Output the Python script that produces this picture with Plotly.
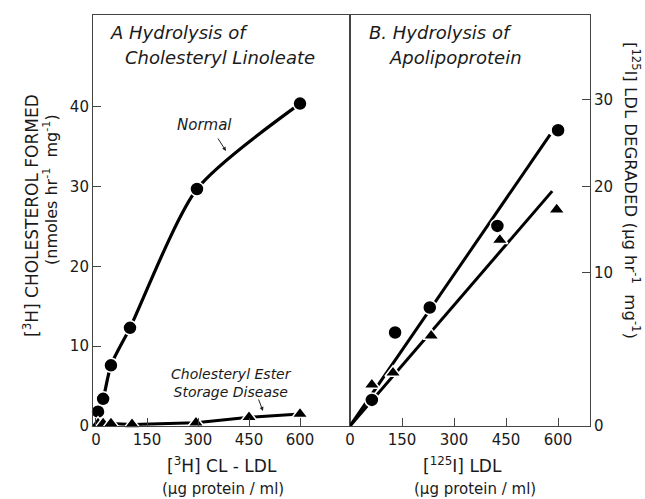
import plotly.graph_objects as go

# ---------------- data ----------------
# Panel A: hydrolysis of cholesteryl linoleate
a_normal_x = [6, 21, 44, 100, 297, 600]
a_normal_y = [1.8, 3.4, 7.6, 12.3, 29.7, 40.4]
a_cesd_x = [6, 21, 44, 106, 294, 450, 600]
a_cesd_y = [0.3, 0.3, 0.3, 0.2, 0.4, 1.1, 1.5]

# Panel B: hydrolysis of apolipoprotein
b_normal_x = [63, 130, 230, 425, 600]
b_normal_y = [2.4, 8.6, 10.9, 18.4, 27.2]
b_cesd_x = [63, 124, 234, 432, 596]
b_cesd_y = [3.8, 4.9, 8.3, 17.1, 19.9]
b_normal_fit_x = [0, 577]
b_normal_fit_y = [0, 26.8]
b_cesd_fit_x = [0, 583]
b_cesd_fit_y = [0, 21.6]

x_ticks = [0, 150, 300, 450, 600]
ya_ticks = [0, 10, 20, 30, 40]
# the right-hand scale of the original is hand drawn: its ticks are not evenly spaced
yb_tick_pos = [0, 14.1, 22.0, 30.0]
yb_tick_text = ["0", "10", "20", "30"]

# ---------------- figure ----------------
W, H = 645, 499
L, R, T, B = 93, 55, 15, 73
PW, PH = W - L - R, H - T - B
split = (350 - L) / PW

FONT = "DejaVu Sans"
INK = "#1a1a1a"
fig = go.Figure()

mk_circle = dict(symbol="circle", size=14, color="black", line=dict(color="white", width=1.5))
mk_tri = dict(symbol="triangle-up", size=14, color="black", line=dict(color="white", width=1.5))

# Panel A
fig.add_trace(go.Scatter(x=a_normal_x, y=a_normal_y, mode="lines",
                         line=dict(color="black", width=3.2, shape="spline", smoothing=0.7),
                         xaxis="x", yaxis="y", cliponaxis=False, showlegend=False))
fig.add_trace(go.Scatter(x=a_cesd_x, y=a_cesd_y, mode="lines", line=dict(color="black", width=3),
                         xaxis="x", yaxis="y", cliponaxis=False, showlegend=False))
fig.add_trace(go.Scatter(x=a_normal_x, y=a_normal_y, mode="markers", marker=mk_circle,
                         xaxis="x", yaxis="y", cliponaxis=False, showlegend=False))
fig.add_trace(go.Scatter(x=a_cesd_x, y=a_cesd_y, mode="markers", marker=mk_tri,
                         xaxis="x", yaxis="y", cliponaxis=False, showlegend=False))

# Panel B
fig.add_trace(go.Scatter(x=b_normal_fit_x, y=b_normal_fit_y, mode="lines", line=dict(color="black", width=3),
                         xaxis="x2", yaxis="y2", cliponaxis=False, showlegend=False))
fig.add_trace(go.Scatter(x=b_cesd_fit_x, y=b_cesd_fit_y, mode="lines", line=dict(color="black", width=3),
                         xaxis="x2", yaxis="y2", cliponaxis=False, showlegend=False))
fig.add_trace(go.Scatter(x=b_normal_x, y=b_normal_y, mode="markers", marker=mk_circle,
                         xaxis="x2", yaxis="y2", cliponaxis=False, showlegend=False))
fig.add_trace(go.Scatter(x=b_cesd_x, y=b_cesd_y, mode="markers", marker=mk_tri,
                         xaxis="x2", yaxis="y2", cliponaxis=False, showlegend=False))

axis_common = dict(showgrid=False, zeroline=False, showline=True, linecolor="#444", linewidth=1.1,
                   mirror=True, ticks="inside", ticklen=8, tickcolor="#444", tickwidth=1.1,
                   tickfont=dict(family=FONT, size=15, color=INK))

fig.update_layout(
    width=W, height=H,
    margin=dict(l=L, r=R, t=T, b=B, pad=0),
    paper_bgcolor="white", plot_bgcolor="white",
    xaxis=dict(domain=[0, split], range=[-8.8, 747], tickvals=x_ticks, anchor="y", **axis_common),
    yaxis=dict(range=[0, 51.5], tickvals=ya_ticks, anchor="x", **axis_common),
    xaxis2=dict(domain=[split, 1], range=[0, 692], tickvals=x_ticks, anchor="y2", **axis_common),
    yaxis2=dict(range=[0, 37.8], tickvals=yb_tick_pos, ticktext=yb_tick_text, anchor="x2", side="right",
                **axis_common),
)

def pxX(px):
    return (px - L) / PW

def pxY(py):
    return (H - B - py) / PH

ann = []
tfont = dict(family=FONT, size=18, color=INK, style="italic")
ann.append(dict(text="A Hydrolysis of", x=pxX(108), y=pxY(33), xanchor="left", yanchor="middle", font=tfont))
ann.append(dict(text="Cholesteryl Linoleate", x=pxX(123), y=pxY(58), xanchor="left", yanchor="middle", font=tfont))
ann.append(dict(text="B. Hydrolysis of", x=pxX(367), y=pxY(33), xanchor="left", yanchor="middle", font=tfont))
ann.append(dict(text="Apolipoprotein", x=pxX(387), y=pxY(58), xanchor="left", yanchor="middle", font=tfont))

ann.append(dict(text="Normal", x=pxX(204), y=pxY(125), xanchor="center", yanchor="middle",
                font=dict(family=FONT, size=15, color=INK, style="italic")))
ann.append(dict(text="Cholesteryl Ester<br>Storage Disease", x=pxX(231), y=pxY(383), xanchor="center",
                yanchor="middle", font=dict(family=FONT, size=14, color=INK, style="italic"), align="center"))

for tail, head in [((217, 137), (226, 151)), ((258, 398), (263, 411))]:
    ann.append(dict(text="", x=pxX(head[0]), y=pxY(head[1]), ax=tail[0] - head[0], ay=tail[1] - head[1],
                    axref="pixel", ayref="pixel", showarrow=True, arrowhead=2, arrowsize=0.8,
                    arrowwidth=1, arrowcolor="#222"))

ann.append(dict(text="[<sup>3</sup>H] CHOLESTEROL FORMED", x=pxX(31), y=pxY(216), textangle=-90,
                xanchor="center", yanchor="middle", font=dict(family=FONT, size=17, color=INK)))
ann.append(dict(text="(nmoles hr<sup>-1</sup>  mg<sup>-1</sup>)", x=pxX(50), y=pxY(190), textangle=-90,
                xanchor="center", yanchor="middle", font=dict(family=FONT, size=16, color=INK)))
ann.append(dict(text="[<sup>125</sup>I] LDL DEGRADED (μg hr<sup>-1</sup>  mg<sup>-1</sup>)", x=pxX(632), y=pxY(190),
                textangle=90, xanchor="center", yanchor="middle", font=dict(family=FONT, size=16.5, color=INK)))

xfont = dict(family=FONT, size=17, color=INK)
sub = dict(family=FONT, size=15, color=INK)
ann.append(dict(text="[<sup>3</sup>H] CL - LDL", x=pxX(222), y=pxY(465), xanchor="center", yanchor="middle", font=xfont))
ann.append(dict(text="(μg protein / ml)", x=pxX(223), y=pxY(489), xanchor="center", yanchor="middle", font=sub))
ann.append(dict(text="[<sup>125</sup>I] LDL", x=pxX(462), y=pxY(465), xanchor="center", yanchor="middle", font=xfont))
ann.append(dict(text="(μg protein / ml)", x=pxX(475), y=pxY(489), xanchor="center", yanchor="middle", font=sub))

for a in ann:
    a.setdefault("xref", "paper")
    a.setdefault("yref", "paper")
    a.setdefault("showarrow", False)
fig.update_layout(annotations=ann)

fig.write_html("out.html")
